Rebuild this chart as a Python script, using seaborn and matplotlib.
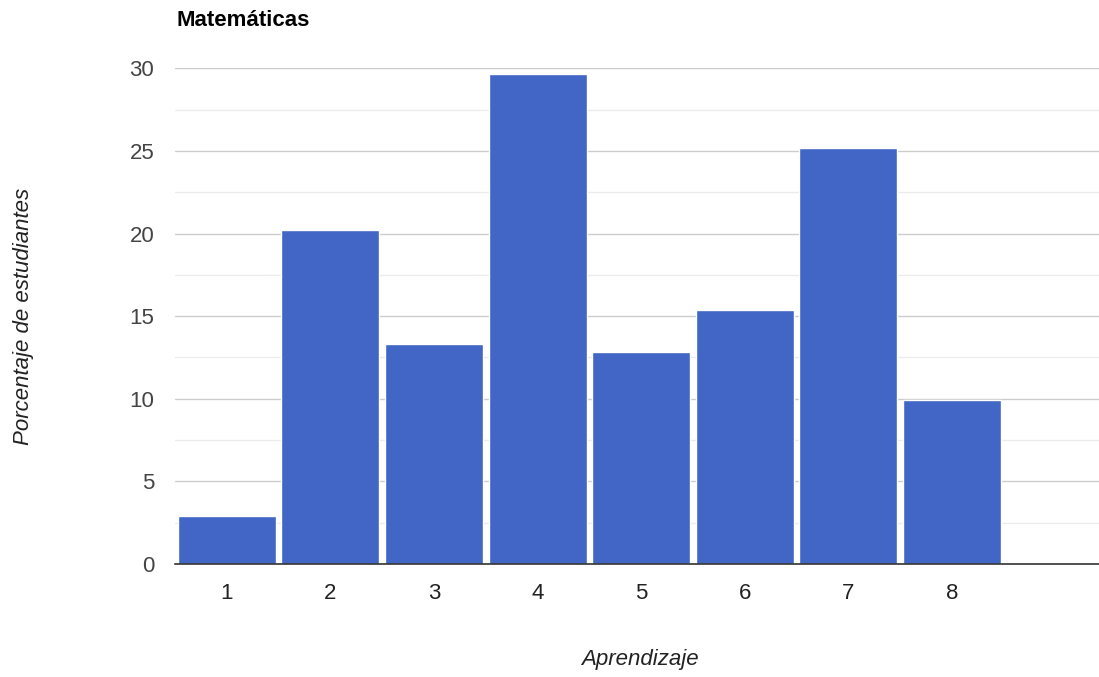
import matplotlib
matplotlib.use("Agg")
import matplotlib.pyplot as plt
import seaborn as sns
import pandas as pd
from matplotlib.ticker import MultipleLocator

categories = ["1", "2", "3", "4", "5", "6", "7", "8"]
values = [2.9, 20.2, 13.3, 29.65, 12.8, 15.35, 25.15, 9.9]
y_ticks = [0, 5, 10, 15, 20, 25, 30]

sns.set_theme(style="white")
plt.rcParams['font.family'] = ['Liberation Sans', 'DejaVu Sans']

df = pd.DataFrame({"Aprendizaje": categories, "Porcentaje": values})

fig = plt.figure(figsize=(10.99, 6.77), dpi=100)
ax = fig.add_axes([175 / 1099, 113 / 677, 1 - 175 / 1099, (564 - 67.8) / 677])

sns.barplot(data=df, x="Aprendizaje", y="Porcentaje", order=categories,
            color="#4166c5", saturation=1, width=0.946, ax=ax, zorder=3)

ax.set_xlim(-0.5, 8.42)
ax.set_ylim(0, 30.03)
ax.set_yticks(y_ticks)
ax.yaxis.set_minor_locator(MultipleLocator(2.5))
ax.grid(axis="y", which="major", color="#cccccc", linewidth=1, zorder=0)
ax.grid(axis="y", which="minor", color="#ebebeb", linewidth=1, zorder=0)
ax.set_axisbelow(True)

for s in ["top", "right", "left"]:
    ax.spines[s].set_visible(False)
ax.spines["bottom"].set_color("#333333")
ax.spines["bottom"].set_linewidth(1.2)
ax.spines["bottom"].set_zorder(5)

ax.tick_params(axis="y", which="both", length=0, pad=15, labelsize=16, labelcolor="#444444")
ax.tick_params(axis="x", length=0, pad=14, labelsize=16, labelcolor="#222222")

ax.set_xlabel("")
ax.set_ylabel("")
fig.text(640 / 1099, 1 - 660 / 677, "Aprendizaje", ha="center", va="center",
         fontsize=16, style="italic", color="#222222")
fig.text(24 / 1099, 1 - 316 / 677, "Porcentaje de estudiantes", ha="center", va="center",
         rotation=90, fontsize=16, style="italic", color="#222222")
fig.text(176 / 1099, 1 - 20 / 677, "Matemáticas", ha="left", va="center",
         fontsize=16, fontweight="bold", color="#000000")

fig.savefig("out.png", dpi=100, facecolor="white")
